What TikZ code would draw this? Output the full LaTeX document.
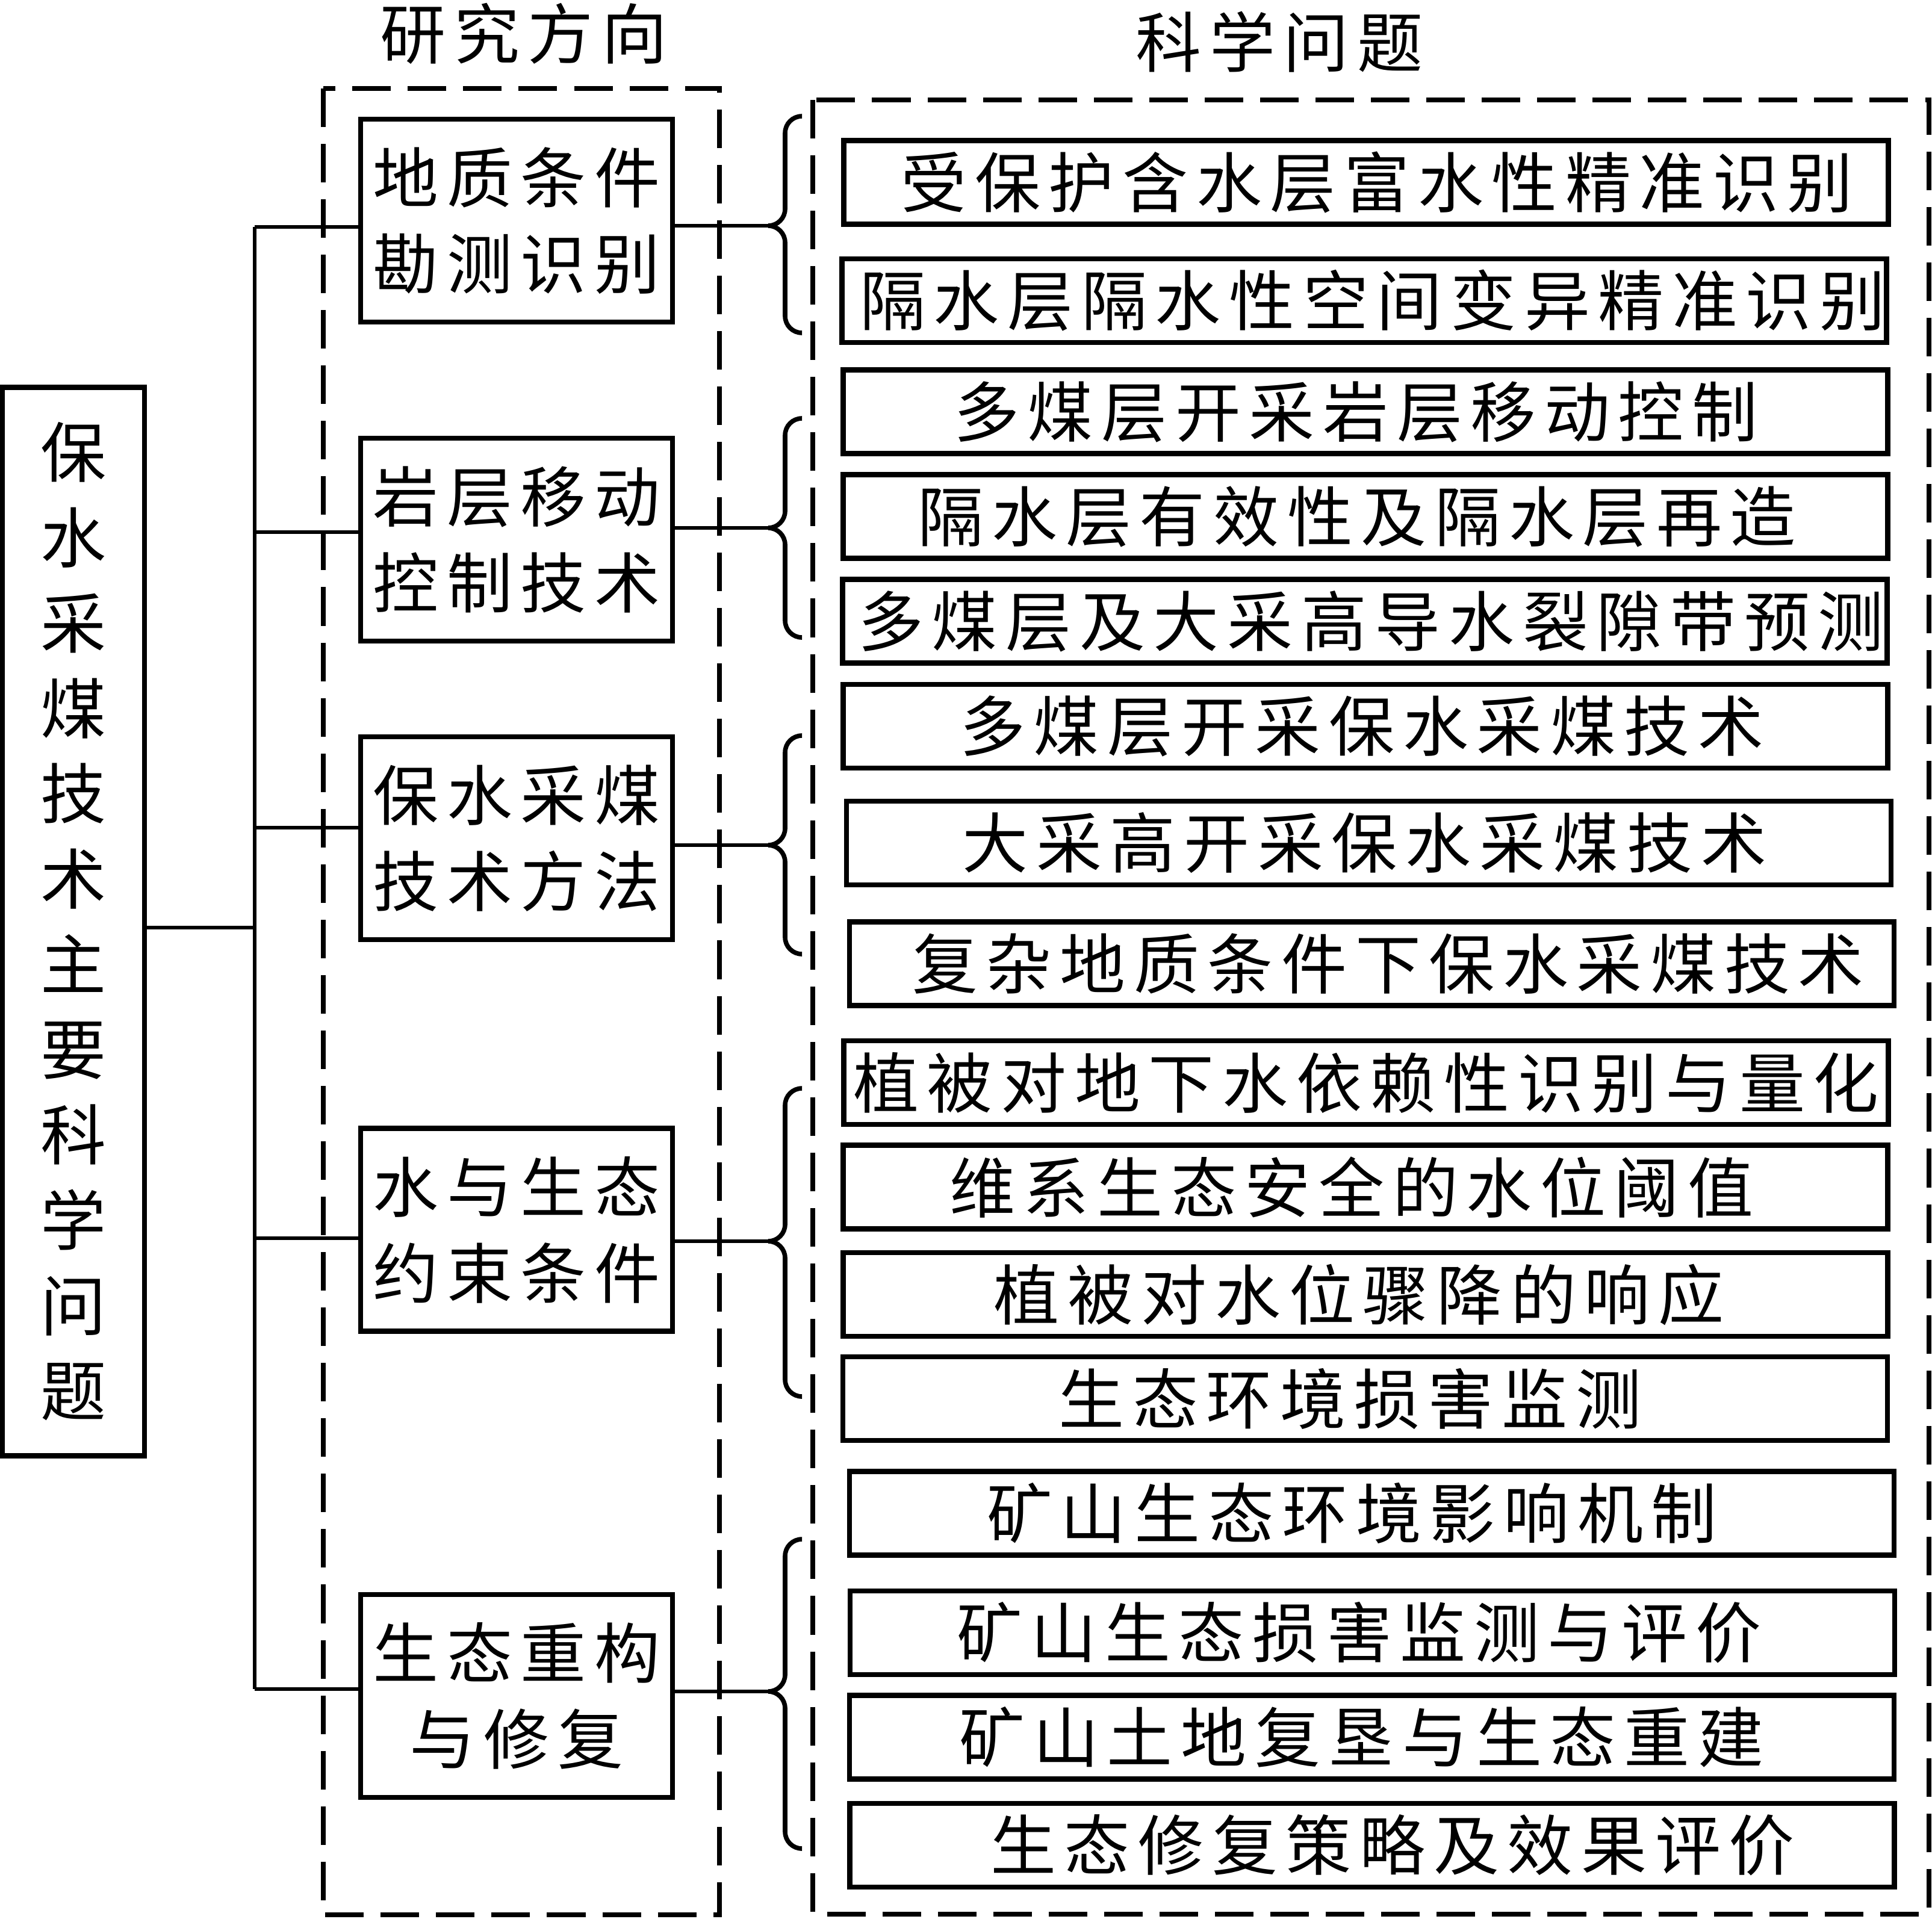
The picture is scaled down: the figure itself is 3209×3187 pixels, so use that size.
\documentclass[tikz,border=0pt]{standalone}
\usepackage{fontspec}
\setmainfont{Noto Sans CJK SC}[LetterSpace=12.5]
\usetikzlibrary{calc}
\tikzset{
  framebox/.style={draw, line width=0.085cm, inner sep=0pt},
  dirbox/.style={framebox, minimum width=5.18cm, minimum height=3.37cm, align=center},
  qbox/.style={framebox, minimum width=17.34cm, minimum height=1.39cm},
  link/.style={line width=0.06cm},
  bracket/.style={line width=0.076cm, rounded corners=0.28cm},
  groupframe/.style={line width=0.08cm, dash pattern=on 0.64cm off 0.28cm},
}
% text inside a fixed box, moved sideways by #1
\newcommand{\shifted}[2]{\makebox[0pt]{\hspace*{#1}#2\hspace*{-#1}}}

\begin{document}
\begin{tikzpicture}[x=0.01cm, y=-0.01cm, font=\fontsize{31}{40.7}\selectfont]
  \useasboundingbox (0,0) rectangle (3209,3187);
  %Headings and dashed groups
  \node (head1) at (870,56) {研究方向};
  \node (head2) at (2125,70) {科学问题};
  \draw[groupframe] (536.5,147) rectangle (1195,3181);
  \draw[groupframe] (1350,166) rectangle (3204,3180);
  %Main box on the left
  \node[framebox, minimum width=2.36cm, minimum height=17.74cm, align=center,
    font=\fontsize{31}{40.3}\selectfont] (main) at (122,1531)
    {保\\水\\采\\煤\\技\\术\\主\\要\\科\\学\\问\\题};
  %Research directions
  \node[dirbox] (dir1) at (858,366.5) {地质条件\\勘测识别};
  \node[dirbox] (dir2) at (858,896.5) {岩层移动\\控制技术};
  \node[dirbox] (dir3) at (858,1392.5) {保水采煤\\技术方法};
  \node[dirbox] (dir4) at (858,2043) {水与生态\\约束条件};
  \node[dirbox] (dir5) at (858,2817.5) {生态重构\\与修复};
  %Scientific questions
  \foreach \n/\x/\y/\d/\txt in {
      1/2269/303/0.18cm/受保护含水层富水性精准识别,
      2/2266/499.5/0.14cm/隔水层隔水性空间变异精准识别,
      3/2268/684/-0.16cm/多煤层开采岩层移动控制,
      4/2268/858/-0.14cm/隔水层有效性及隔水层再造,
      5/2267/1032/0.10cm/多煤层及大采高导水裂隙带预测,
      6/2268/1206.5/-0.06cm/多煤层开采保水采煤技术,
      7/2273.5/1400.5/-0.07cm/大采高开采保水采煤技术,
      8/2278.5/1601/0.27cm/复杂地质条件下保水采煤技术,
      9/2269/1798.5/0cm/植被对地下水依赖性识别与量化,
      10/2268/1972/-0.23cm/维系生态安全的水位阈值,
      11/2268/2150.5/-0.11cm/植被对水位骤降的响应,
      12/2267.5/2323.5/-0.25cm/生态环境损害监测,
      13/2278.5/2514/-0.33cm/矿山生态环境影响机制,
      14/2279.5/2712.5/-0.22cm/矿山生态损害监测与评价,
      15/2278.5/2886/-0.17cm/矿山土地复垦与生态重建,
      16/2279/3065.5/0.34cm/生态修复策略及效果评价}
    \node[qbox] (q\n) at (\x,\y) {\shifted{\d}{\txt}};
  %Braces in front of each group of questions
  \foreach \i/\top/\tip/\bot in {1/193/375/553, 2/695/877/1059, 3/1222/1404/1585,
      4/1808/2062/2320, 5/2557/2810/3071} {
    \coordinate (tip\i) at (1276,\tip);
    \draw[bracket] (1332,\top) -- (1304,\top) -- (1304,\tip) -- (tip\i)
      (tip\i) -- (1304,\tip) -- (1304,\bot) -- (1332,\bot);
  }
  %Trunk and branches
  \foreach \i/\y in {1/377, 2/884, 3/1375, 4/2057, 5/2806}
    \coordinate (j\i) at (423,\y);
  \coordinate (jm) at (423,1541);
  \draw[link] (j1) -- (j5);
  \draw[link] (jm -| main.east) -- (jm);
  \foreach \i in {1,...,5} {
    \draw[link] (j\i) -- (j\i -| dir\i.west);
    \draw[link] (dir\i.east |- tip\i) -- (tip\i);
  }
\end{tikzpicture}
\end{document}
